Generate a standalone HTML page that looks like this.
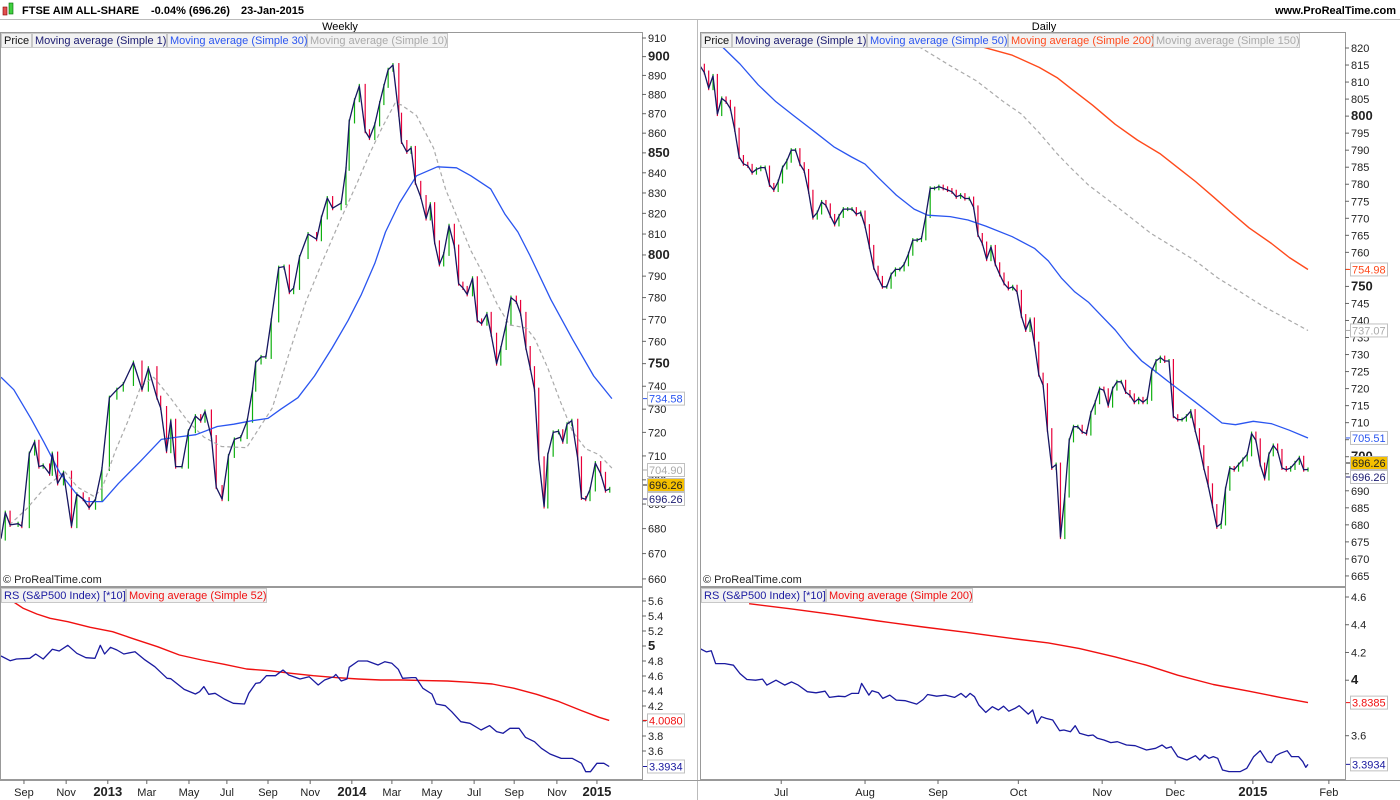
<!DOCTYPE html>
<html><head><meta charset="utf-8"><style>
body{margin:0;background:#fff;}
svg{display:block;font-family:"Liberation Sans",sans-serif;}
</style></head><body>
<svg id="c" width="1400" height="800" viewBox="0 0 1400 800" xmlns="http://www.w3.org/2000/svg">
<rect x="0" y="0" width="1400" height="800" fill="#fff"/>
<g>
 <rect x="3" y="7" width="4" height="8" fill="#e05050" stroke="#800" stroke-width="0.6"/>
 <rect x="9" y="3" width="4" height="11" fill="#40d040" stroke="#060" stroke-width="0.6"/>
 <text x="22" y="14" font-size="11" font-weight="bold">FTSE AIM ALL-SHARE</text>
 <text x="151" y="14" font-size="11" font-weight="bold">-0.04% (696.26)</text>
 <text x="241" y="14" font-size="11" font-weight="bold">23-Jan-2015</text>
 <text x="1396" y="14" font-size="11" font-weight="bold" text-anchor="end">www.ProRealTime.com</text>
 <line x1="0" y1="19.5" x2="1400" y2="19.5" stroke="#bbb"/>
 <text x="340" y="30" font-size="11" text-anchor="middle">Weekly</text>
 <text x="1044" y="30" font-size="11" text-anchor="middle">Daily</text>
</g>
<g id="layer"></g>
</svg>
<script>
// ---- Weekly data ----
const wkWeeks=[0,0.8,1.7,3.2,3.9,5.3,6.3,7.1,7.9,9.1,9.6,10.6,11.7,13.2,14.2,15.4,16.5,17.7,18.9,20.3,21.7,22.9,24.8,26.4,27.6,29.2,29.9,31,31.8,32.7,33.9,35.1,36.4,37.4,38.2,39.4,40.3,41.4,42.6,43.7,44.9,46.1,47.1,47.7,48.7,49.6,50.6,52,53,54,54.8,55.9,57.5,59.1,60,61.1,62.1,63.7,64.6,65.2,66.2,67.1,68.2,69,70,70.9,71.7,72.5,73.4,74.5,75,76,76.8,77.6,78.6,79.6,80.4,81.2,82.1,82.9,83.9,84.9,85.7,86.5,87.3,88.3,89.2,90,91,91.8,92.8,93.6,94.6,95.5,96.5,97.3,98.3,99.1,99.9,100.7,101.7,102.4,103.4,104.4,105.2,106,106.9,108,108.7,109.5,110.3,111.3,112.3,113.2,114];
const wkClose=[676,686.5,681.5,682,681,711,716,705.5,706,702.5,711,698.5,703,681,694,692,688.5,692,704.5,735,738.5,741,750.5,738.5,748,735,730.5,712,725,705.5,705.5,720.5,727,725,729,718,697,692,710,717,718,725,738.5,750.5,753,753,769.5,794,794.5,782.5,784.5,799,810,807.5,818,827.5,822.5,825,842,866,877,884.5,861,857.5,864.5,875.5,884.5,893,895.5,869.5,855.5,850.5,852.5,835,828,817.5,824.5,806,795.5,800.5,814,804,786.5,784.5,781.5,789,769.5,768,772.5,763,750,757,768,780,778,772.5,757,748,738.5,709,689,710.5,720,720.5,716,723.5,725,709,692.5,692,696,707,702.5,695.5,696.26];
const wkMa30Weeks=[0,2.4,5.6,8,11,14,16,19,22,26,30,33,36.5,40.5,43.6,47,50,52.4,55.6,58.7,62,65,67.5,70,72,74.6,77.8,81.7,85.3,88,91.7,94.4,96.8,99,103,107,111,114.4];
const wkMa30=[744,738.5,726,716,703,694.5,691,691,698.5,707.5,717,718,719,722.5,723.5,725,726,730,735,744.5,757,769.5,781.5,796,811,825,838.5,843,842.5,838.5,832,819.5,811,800,779,761,744.5,734.58];
const wkMa10Weeks=[1.6,4.8,7.9,11.9,14.3,17.5,19,21.4,23.8,26.2,28.6,31.7,34.9,38,41.3,46,48.4,50.8,54,57,60.3,63.5,66.7,69,71.4,73.8,75,77.8,81,83.3,85.7,88,90.5,92.9,95.2,98.4,100,102.4,104.8,107,109.5,112,114.4];
const wkMa10=[681.5,688,696,703.5,697,693,697,712,725,740,744,735,725,718,714,713.5,722,730.5,755,777.5,797.5,816.5,835,849.5,863,875.5,874.5,869,852.5,831.5,816.5,802,790,777,767.5,766,761,748,733,720.5,713,710.5,704.9];
const wkTicks=[660,670,680,690,700,710,720,730,740,750,760,770,780,790,800,810,820,830,840,850,860,870,880,890,900,910];
const wkMonthLabels=["Sep","Nov","2013","Mar","May","Jul","Sep","Nov","2014","Mar","May","Jul","Sep","Nov","2015"];
const wkMonthWeeks=[4.3,12.2,20,27.3,35.2,42.3,50,57.9,65.7,73.2,80.7,88.6,96.1,104.1,111.6];
const rsWkWeeks=[0,1.7,2.9,5.4,6.5,7.9,9.6,10.9,12.5,14.2,15.9,17.6,18.6,19.4,20.5,21.7,23,25.1,26.8,28.8,31.1,31.8,34.3,36.4,37.2,38,38.9,40.1,41.8,43.5,45.6,46.4,47.7,48.5,49.7,51.4,52.8,53.9,56,57.7,59.4,60.6,62.3,62.7,63.7,64.8,65.2,66.9,68.6,70.6,71.9,73.2,74.4,75.2,76.9,77.7,79,80.7,81.5,83.2,84.4,86.1,87.8,89.9,91.5,92.8,94,95.3,97,98.2,99.9,101.2,102.8,104.9,107,108.7,109.5,110.4,111.6,112.9,113.9];
const rsWk=[4.867,4.804,4.827,4.836,4.893,4.827,4.956,4.933,5.009,4.902,4.844,4.836,5.009,4.893,4.982,4.947,4.893,4.924,4.822,4.724,4.569,4.564,4.422,4.36,4.391,4.458,4.356,4.369,4.293,4.236,4.227,4.369,4.502,4.511,4.604,4.604,4.68,4.613,4.56,4.591,4.48,4.547,4.591,4.622,4.533,4.56,4.716,4.8,4.8,4.747,4.791,4.769,4.689,4.569,4.578,4.578,4.436,4.36,4.227,4.204,4.124,3.991,3.969,3.88,3.938,3.858,3.836,3.902,3.902,3.782,3.724,3.636,3.56,3.502,3.502,3.436,3.324,3.324,3.436,3.436,3.3934];
const rsWkMaWeeks=[2.1,4.2,6.7,9.2,12.5,16.7,20.9,25.1,29.3,33.4,37.6,41.8,46,50.2,54.3,58.5,62.7,66.9,71.1,75.2,79.4,83.6,87.8,92,96.1,100.3,104.5,108.7,112,113.9];
const rsWkMa=[5.6,5.502,5.427,5.369,5.324,5.249,5.191,5.089,4.991,4.88,4.813,4.756,4.693,4.671,4.636,4.604,4.578,4.56,4.547,4.547,4.538,4.533,4.516,4.493,4.436,4.356,4.258,4.138,4.049,4.008];
const rsWkTicks=[3.6,3.8,4.0,4.2,4.4,4.6,4.8,5.0,5.2,5.4,5.6];
// ---- Daily data ----
const dyClose=[814.8,812.8,808.2,811.8,800.6,805.2,804.2,802.2,796,788,786,785.4,783.4,784.4,784.9,784.9,779.8,778.3,780.8,784.9,786.9,790,790,785.9,783.9,777.8,770.2,771.7,774.8,773.8,770.7,768.2,770.7,772.7,772.7,772.7,771.2,771.7,767.7,761.6,755.5,752.5,749.9,749.9,753.5,755,755,756.5,759.6,763.6,763.6,764.1,770.7,778.8,778.8,779.3,778.8,778.3,777.8,776.3,776.8,775.8,775.8,773.2,765.1,762.6,758,761.6,756.5,753.5,750.9,749.4,749.9,748.4,741.3,737.2,740.3,733.2,724.1,721,707.8,696.7,697.7,676.4,688.6,704.8,708.8,708.8,707.3,706.8,712.9,716,720,719.5,715,720,722,722,719,718,716,717,716,717,725.1,728.1,729.1,728.1,728.1,711.9,710.9,710.9,711.9,713.4,707.8,702.8,696.7,691.6,685.5,679.4,680.4,690.6,696.7,696.2,697.7,699.2,700.7,706.8,704.8,697.7,693.6,700.7,703.3,701.7,696.7,696.2,696.7,698.2,699.7,696.2,696.26];
const dyMa50Days=[5.1,9.2,13.4,17.5,21.6,26.7,30.8,34.9,38,41.1,45.2,49.3,52.4,57.6,61.7,65.8,71.9,77.1,80.2,83.2,86.3,89.4,92.5,95.6,98.7,101.7,104.8,107.9,111,114.1,117.2,120.2,123.3,127.4,131.6,135.7,140];
const dyMa50=[820.4,815.3,809.2,804.2,800.1,795.1,791,788,785.9,781.9,776.8,772.7,770.9,770.5,769.5,767.7,764.6,761.1,757.5,752.5,748.4,745.4,741.3,737.2,732.2,728.1,725.1,722,719,716,712.9,709.9,709.4,710.4,709.7,707.8,705.51];
const dyMa200Days=[64.7,71.9,78.1,82.2,85.3,90.4,95.6,100.7,105.9,110,114.1,118.2,122.3,126.4,131.6,135.7,140];
const dyMa200=[820.4,817.9,814.3,811.3,808.2,803.2,797.6,793,789,784.9,780.8,776.3,771.7,767.2,762.6,758.5,754.98];
const dyMa150Days=[50.4,57.6,63.7,69.9,74,78.1,82.2,85.3,89.4,94.6,98.7,103.8,108.9,114.1,119.2,124.4,129.5,134.6,140];
const dyMa150=[820.4,814.8,810.3,804.2,800.6,795.1,789,784.9,779.8,774.8,770.7,765.6,761.6,757.5,752.5,748.4,744.3,740.8,737.07];
const dyTicks=[665,670,675,680,685,690,695,700,705,710,715,720,725,730,735,740,745,750,755,760,765,770,775,780,785,790,795,800,805,810,815,820];
const dyMonthLabels=["Jul","Aug","Sep","Oct","Nov","Dec","2015","Feb"];
const dyMonthDays=[18.7,38,54.8,73.3,92.6,109.4,127.3,144.8];
const rsDyDays=[0,1.5,2.6,3.6,5.7,7.7,9.2,10.8,12.8,14.4,15.4,17.5,19.5,21.1,22.6,24.7,26.7,28.8,29.8,31.9,33.4,34.9,36.5,37.2,38.9,39.6,41.1,42.1,43.7,45.2,47.3,49.9,51.4,52.4,54.5,56.5,58.6,60.1,61.2,62.2,63.2,64.2,65.8,67.3,68.7,69.9,71.1,72.5,73.5,75.6,76.6,77.6,78.6,79.7,81.2,82.8,83.8,85.3,86.4,87.4,89.4,90.5,91.5,93,94.6,96.1,98.2,100.2,102.8,104.9,106.4,107.4,108.5,110,112.1,114.1,115.1,116.2,117.2,118.2,119.2,120.3,121.8,124.4,125.9,127.5,129,130.6,131.6,132.6,133.6,135.2,136.2,137.8,138.8,139.5,140];
const rsDy=[4.228,4.204,4.212,4.12,4.12,4.108,4.048,4.005,4.0,4.008,3.965,4.0,3.965,3.988,3.965,3.917,3.909,3.921,3.876,3.885,3.881,3.905,3.905,3.977,3.893,3.924,3.909,3.869,3.893,3.857,3.852,3.828,3.861,3.897,3.885,3.893,3.876,3.905,3.876,3.905,3.881,3.821,3.768,3.809,3.785,3.813,3.777,3.797,3.816,3.756,3.785,3.689,3.737,3.725,3.713,3.636,3.641,3.629,3.672,3.617,3.6,3.605,3.581,3.569,3.55,3.557,3.533,3.528,3.497,3.509,3.533,3.509,3.521,3.449,3.425,3.456,3.425,3.461,3.437,3.449,3.437,3.353,3.341,3.341,3.365,3.449,3.492,3.413,3.406,3.456,3.473,3.492,3.449,3.449,3.413,3.372,3.3934];
const rsDyMaDays=[11.3,20.6,30.8,41.1,51.4,61.7,72,80.2,87.4,95.6,102.8,110,118.2,126.4,133.6,140];
const rsDyMa=[4.552,4.516,4.473,4.427,4.384,4.343,4.3,4.269,4.228,4.168,4.108,4.036,3.969,3.921,3.876,3.8385];
const rsDyTicks=[3.6,4.0,4.2,4.4,4.6];

// ---- scales ----
const wX=w=>1+w*5.34;
const wY=v=>38+Math.log(910/v)*1684;
const dX=d=>700+d*4.343;
const dY=v=>48+(820-v)*3.406;
const rlY=v=>601+(5.6-v)*75;
const rrY=v=>597+(4.6-v)*138.7;

const NS="http://www.w3.org/2000/svg";
const layer=document.getElementById('layer');
function mk(tag,attrs,parent){const e=document.createElementNS(NS,tag);for(const k in attrs)e.setAttribute(k,attrs[k]);(parent||layer).appendChild(e);return e;}
function pathOf(xs,ys,xf,yf){const n=Math.min(xs.length,ys.length);let d='';for(let i=0;i<n;i++)d+=(i?'L':'M')+xf(xs[i]).toFixed(1)+' '+yf(ys[i]).toFixed(1);return d;}

const defs=mk('defs',{});
[['cw',1,33,641,553],['cd',701,33,644,553],['crw',1,588,641,191],['crd',701,588,644,191]].forEach(c=>{const cp=mk('clipPath',{id:c[0]},defs);mk('rect',{x:c[1],y:c[2],width:c[3],height:c[4]},cp);});

const fr=mk('g',{});


[[0.5,32.5,642,554],[700.5,32.5,645,554],[0.5,587.5,642,192],[700.5,587.5,645,192]].forEach(r=>mk('rect',{x:r[0],y:r[1],width:r[2],height:r[3],fill:'none',stroke:'#999'},fr));
mk('line',{x1:697.5,y1:20,x2:697.5,y2:800,stroke:'#bbb'},fr);
mk('line',{x1:0,y1:780.5,x2:1400,y2:780.5,stroke:'#999'},fr);

function axis(ticks,yf,x,bold,name,fmt,top,bot){
 const g=mk('g',{});
 
 
 ticks.forEach(t=>{const y=yf(t);if(y<top||y>bot)return;
  mk('line',{x1:x,y1:y,x2:x+4,y2:y,stroke:'#666'},g);
  const b=bold.indexOf(t)>=0;
  const tx=mk('text',{x:x+6,y:y+4,'font-size':b?13:11,'font-weight':b?'bold':'normal',fill:'#222'},g);
  tx.textContent=fmt?fmt(t):t;});
}
axis(wkTicks,wY,642,[750,800,850,900],'weekly-price-axis',null,34,585);
axis(dyTicks,dY,1345,[700,750,800],'daily-price-axis',null,34,585);
axis(rsWkTicks,rlY,642,[5.0],'weekly-rs-axis',t=>t===5?'5':t===4?'4':t.toFixed(1),589,779);
axis(rsDyTicks,rrY,1345,[4.0],'daily-rs-axis',t=>t===4?'4':t.toFixed(1),589,779);

function xaxis(labels,pos,xf,name){
 const g=mk('g',{});
 
 
 labels.forEach((l,i)=>{const x=xf(pos[i]);
  mk('line',{x1:x,y1:780,x2:x,y2:784,stroke:'#666'},g);
  const b=/^\d{4}$/.test(l);
  const t=mk('text',{x:x,y:796,'font-size':b?13:11,'font-weight':b?'bold':'normal','text-anchor':'middle',fill:'#222'},g);
  t.textContent=l;});
}
xaxis(wkMonthLabels,wkMonthWeeks,wX,'weekly-time-axis');
xaxis(dyMonthLabels,dyMonthDays,dX,'daily-time-axis');

function bars(xs,cl,xf,yf,clip,name){
 const g=mk('g',{'clip-path':'url(#'+clip+')'});
 
 
 const n=Math.min(xs.length,cl.length);
 for(let i=1;i<n;i++){const x=xf(xs[i]);const up=cl[i]>=cl[i-1];
  const b=mk('line',{x1:x,y1:yf(cl[i-1])+(up?2:-2),x2:x,y2:yf(cl[i])+(up?-2:2),stroke:up?'#10b010':'#e8003a','stroke-width':1.2},g);
  
  
 }
}
function line(xs,ys,xf,yf,clip,name,color,w,dash){
 const p=mk('path',{d:pathOf(xs,ys,xf,yf),fill:'none',stroke:color,'stroke-width':w,'clip-path':'url(#'+clip+')','stroke-linejoin':'round'});
 if(dash)p.setAttribute('stroke-dasharray',dash);
 
 
}
bars(wkWeeks,wkClose,wX,wY,'cw','weekly-price-bars');
line(wkMa10Weeks,wkMa10,wX,wY,'cw','weekly-ma10-line','#aaa',1.2,'4,3');
line(wkMa30Weeks,wkMa30,wX,wY,'cw','weekly-ma30-line','#2a55f0',1.3);
line(wkWeeks,wkClose,wX,wY,'cw','weekly-close-line','#161660',1.3);
const dDays=dyClose.map((v,i)=>i);
bars(dDays,dyClose,dX,dY,'cd','daily-price-bars');
line(dyMa150Days,dyMa150,dX,dY,'cd','daily-ma150-line','#aaa',1.2,'4,3');
line(dyMa200Days,dyMa200,dX,dY,'cd','daily-ma200-line','#ff4a1c',1.4);
line(dyMa50Days,dyMa50,dX,dY,'cd','daily-ma50-line','#2a55f0',1.3);
line(dDays,dyClose,dX,dY,'cd','daily-close-line','#161660',1.3);
line(rsWkMaWeeks,rsWkMa,wX,rlY,'crw','weekly-rs-ma52-line','#f01010',1.4);
line(rsWkWeeks,rsWk,wX,rlY,'crw','weekly-rs-line','#1a1aa0',1.3);
line(rsDyMaDays,rsDyMa,dX,rrY,'crd','daily-rs-ma200-line','#f01010',1.4);
line(rsDyDays,rsDy,dX,rrY,'crd','daily-rs-line','#1a1aa0',1.3);

function legend(x,y,items,name){
 const g=mk('g',{});
 
 
 let cx=x;
 items.forEach(it=>{
  mk('rect',{x:cx+0.5,y:y+0.5,width:it[2],height:14,fill:'#f2f2f2',stroke:'#c8c8c8'},g);
  const t=mk('text',{x:cx+3,y:y+11,'font-size':11,fill:it[1]},g);t.textContent=it[0];
  
  
  cx+=it[2]+1;});
}
legend(1,33,[['Price','#111',30],['Moving average (Simple 1)','#1a1a70',134],['Moving average (Simple 30)','#2a55f0',139],['Moving average (Simple 10)','#aaa',140]],'weekly-legend');
legend(701,33,[['Price','#111',30],['Moving average (Simple 1)','#1a1a70',134],['Moving average (Simple 50)','#2a55f0',140],['Moving average (Simple 200)','#ff4a1c',144],['Moving average (Simple 150)','#aaa',146]],'daily-legend');
legend(1,588,[['RS (S&P500 Index) [*10]','#1a1aa0',124],['Moving average (Simple 52)','#f01010',140]],'weekly-rs-legend');
legend(701,588,[['RS (S&P500 Index) [*10]','#1a1aa0',124],['Moving average (Simple 200)','#f01010',146]],'daily-rs-legend');

[[3,'weekly-copyright'],[703,'daily-copyright']].forEach(c=>{const t=mk('text',{x:c[0],y:583,'font-size':11,fill:'#222'});t.textContent='© ProRealTime.com';
 
 });

function tag(x,y,txt,color,bg,name){
 const g=mk('g',{});
 
 
 mk('line',{x1:x-3,y1:y,x2:x+1,y2:y,stroke:color},g);
 mk('rect',{x:x+1.5,y:y-6.5,width:txt.length>6?38:37,height:13,fill:bg,stroke:'#c0c0c0'},g);
 const t=mk('text',{x:x+3,y:y+4,'font-size':11,fill:color},g);t.textContent=txt;
}
tag(646,wY(wkMa30[wkMa30.length-1]),'734.58','#2a55f0','#fff','weekly-ma30-tag');
tag(646,470,'704.90','#aaa','#fff','weekly-ma10-tag');
tag(646,485,'696.26','#222','#f5c000','weekly-last-tag');
tag(646,499,'696.26','#1a1a70','#fff','weekly-close-tag');
tag(1349,dY(dyMa200[dyMa200.length-1]),'754.98','#ff4a1c','#fff','daily-ma200-tag');
tag(1349,dY(dyMa150[dyMa150.length-1]),'737.07','#aaa','#fff','daily-ma150-tag');
tag(1349,dY(dyMa50[dyMa50.length-1]),'705.51','#2a55f0','#fff','daily-ma50-tag');
tag(1349,463,'696.26','#222','#f5c000','daily-last-tag');
tag(1349,477,'696.26','#1a1a70','#fff','daily-close-tag');
tag(646,rlY(rsWkMa[rsWkMa.length-1]),'4.0080','#f01010','#fff','weekly-rs-ma-tag');
tag(646,rlY(rsWk[rsWk.length-1]),'3.3934','#1a1aa0','#fff','weekly-rs-tag');
tag(1349,rrY(rsDyMa[rsDyMa.length-1]),'3.8385','#f01010','#fff','daily-rs-ma-tag');
tag(1349,rrY(rsDy[rsDy.length-1]),'3.3934','#1a1aa0','#fff','daily-rs-tag');
</script>
</body></html>
